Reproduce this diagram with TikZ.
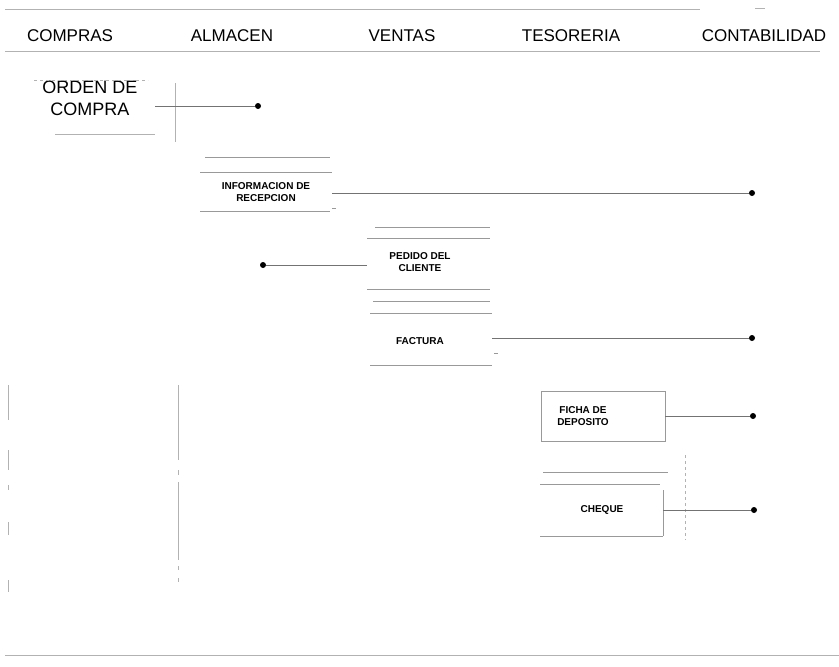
\documentclass[tikz,border=0pt]{standalone}
\usepackage{fontspec}
\setmainfont{Liberation Sans}
\begin{document}
\begin{tikzpicture}[x=1pt,y=-1pt,
  faint/.style={draw=black!30, line width=0.7pt},
  boxline/.style={draw=black!40, line width=0.8pt},
  conn/.style={draw=black!55, line width=0.8pt},
  dot/.style={circle, fill=black, inner sep=0pt, minimum size=6pt},
  lane/.style={font=\fontsize{17}{19}\selectfont, inner sep=0pt},
  doc/.style={font=\bfseries\fontsize{10}{12}\selectfont, align=center, inner sep=0pt}]
\useasboundingbox (0,0) rectangle (839,667);

% frame lines
\draw[faint] (5,9) -- (700,9);
\draw[faint] (755,8) -- (765,8);
\draw[faint] (5,51) -- (820,51);
\draw[faint] (5,655) -- (839,655);

% lane headers
\node[lane] (compras) at (70,36) {COMPRAS};
\node[lane] (almacen) at (232,36) {ALMACEN};
\node[lane] (ventas) at (402,36) {VENTAS};
\node[lane] (tesoreria) at (571,36) {TESORERIA};
\node[lane] (contab) at (764,36) {CONTABILIDAD};

% left vertical lane lines
\draw[faint] (8,385) -- (8,420);
\draw[faint] (8,450) -- (8,470);
\draw[faint] (8,485) -- (8,490);
\draw[faint] (8,522) -- (8,535);
\draw[faint] (8,580) -- (8,592);
\draw[faint] (178,385) -- (178,460);
\draw[faint] (178,470) -- (178,475);
\draw[faint] (178,482) -- (178,560);
\draw[faint] (178,566) -- (178,570);
\draw[faint] (178,578) -- (178,582);

% ORDEN DE COMPRA
\node[font=\fontsize{18}{22}\selectfont, align=center, inner sep=0pt] (orden) at (90,98) {ORDEN DE\\COMPRA};
\draw[faint, dashed] (34,80) -- (148,80);
\draw[faint] (55,134) -- (155,134);
\draw[faint] (175,83) -- (175,142);
\coordinate (ordenout) at (155,106);
\node[dot] (d1) at (258,106) {};
\draw[conn] (ordenout) -- (d1);

% INFORMACION DE RECEPCION
\node[doc] (info) at (266,192) {INFORMACION DE\\RECEPCION};
\draw[boxline] (205,157) -- (330,157);
\draw[boxline] (200,172) -- (332,172);
\draw[boxline] (200,211) -- (330,211);
\draw[boxline] (332,208) -- (336,208);
\coordinate (infoout) at (332,193);
\node[dot] (d2) at (752,193) {};
\draw[conn] (infoout) -- (d2);

% PEDIDO DEL CLIENTE
\node[doc] (pedido) at (420,262) {PEDIDO DEL\\CLIENTE};
\draw[boxline] (375,227) -- (490,227);
\draw[boxline] (367,238) -- (490,238);
\draw[boxline] (367,289) -- (490,289);
\draw[boxline] (373,301) -- (490,301);
\draw[boxline] (370,313) -- (492,313);
\coordinate (pedidoin) at (367,265);
\node[dot] (d3) at (263,265) {};
\draw[conn] (d3) -- (pedidoin);

% FACTURA
\node[doc] (factura) at (420,341) {FACTURA};
\draw[boxline] (370,365) -- (492,365);
\draw[boxline] (494,353) -- (498,353);
\coordinate (facturaout) at (492,338);
\node[dot] (d4) at (752,338) {};
\draw[conn] (facturaout) -- (d4);

% FICHA DE DEPOSITO
\node[draw=black!40, line width=0.8pt, minimum width=124pt, minimum height=50pt, inner sep=0pt] (ficha) at (603,416) {};
\node[doc] (fichatext) at (583,416) {FICHA DE\\DEPOSITO};
\node[dot] (d5) at (753,416) {};
\draw[conn] (ficha.east) -- (d5);

% CHEQUE
\node[doc] (cheque) at (602,510) {CHEQUE};
\draw[boxline] (543,472) -- (668,472);
\draw[boxline] (540,484) -- (660,484);
\draw[boxline] (540,536) -- (663,536);
\draw[boxline] (663,490) -- (663,536);
\draw[faint, dashed] (685,455) -- (685,540);
\coordinate (chequeout) at (663,510);
\node[dot] (d6) at (754,510) {};
\draw[conn] (chequeout) -- (d6);
\end{tikzpicture}
\end{document}
